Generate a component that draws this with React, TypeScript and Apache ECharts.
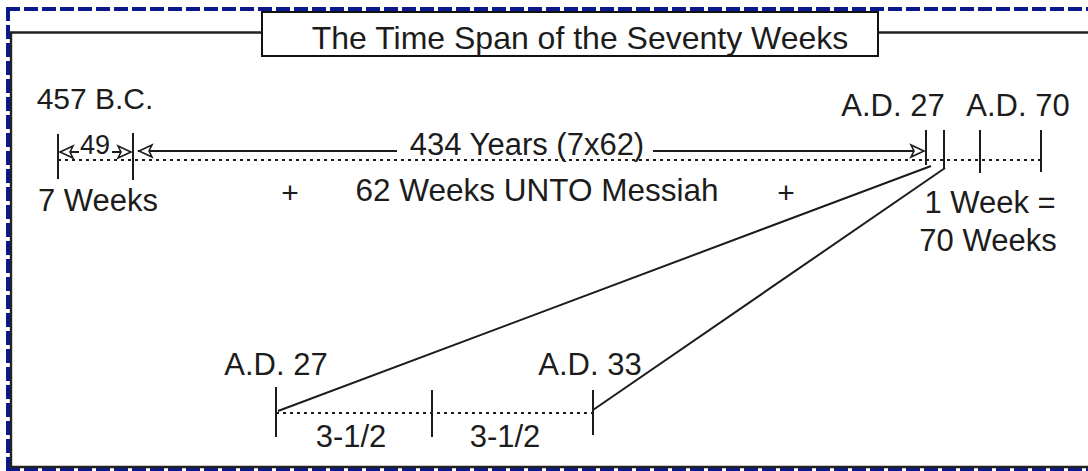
import React, { useEffect, useRef } from "react";
import * as echarts from "echarts";

const W = 1088;
const H = 471;
const FONT = "'Liberation Sans', Arial, Helvetica, sans-serif";
const INK = "#1c1c1c";
const NAVY = "#0a1a8c";

// Vertical tick marks on the timelines: [x, yTop, yBottom]
const tickMarks: number[][] = [
  [58, 134, 179], [133, 133, 180],
  [926, 130, 165], [944, 130, 168], [980, 130, 173], [1041, 130, 172],
  [276, 387, 437], [432, 390, 437], [593, 390, 435],
];
// Dotted timelines: [x1, y1, x2, y2]
const dottedLines: number[][] = [
  [58, 160, 1043, 160],
  [276, 413, 593, 413],
];
// Solid segments: arrow shafts and the two connecting diagonals
const solidLines: number[][] = [
  [60, 152, 79, 152], [112, 152, 131, 152],
  [138, 151, 397, 151], [653, 151, 924, 151],
  [278, 411, 931, 166],
  [593, 410, 945, 168],
];
// Arrow heads: [tipX, tipY, direction]
const arrowHeads: number[][] = [
  [60, 152, -1], [131, 152, 1],
  [139, 151, -1], [924, 151, 1],
];
// Labels: [text, centerX, centerY, fontSize]
const labels: [string, number, number, number][] = [
  ["457 B.C.", 95, 98.5, 30],
  ["49", 95, 145, 27],
  ["434 Years (7x62)", 527, 144, 31],
  ["7 Weeks", 98, 200, 31],
  ["+", 290, 192, 30],
  ["62 Weeks UNTO Messiah", 537, 190, 31.5],
  ["+", 786, 192, 30],
  ["A.D. 27", 893, 105, 31],
  ["A.D. 70", 1018, 105, 31],
  ["1 Week =", 990, 202, 31],
  ["70 Weeks", 988, 240, 31],
  ["A.D. 27", 276, 364, 31],
  ["A.D. 33", 590, 364, 31],
  ["3-1/2", 351, 436, 31],
  ["3-1/2", 505, 436, 31],
];
const title = "The Time Span of the Seventy Weeks";

export default function App() {
  const ref = useRef<HTMLDivElement>(null);
  useEffect(() => {
    if (!ref.current) return;
    const chart = echarts.init(ref.current, null, { renderer: "svg" });

    const lineItem = (arr: number[][], dash: number[] | null, width: number) => ({
      type: "custom",
      coordinateSystem: "cartesian2d",
      clip: false,
      silent: true,
      data: arr.map((s) => [s[0], s[1]]),
      renderItem: (params: any, api: any) => {
        const s = arr[params.dataIndex];
        const p1 = api.coord([s[0], s[1]]);
        const p2 = api.coord([s[2], s[3]]);
        return {
          type: "line",
          shape: { x1: p1[0], y1: p1[1], x2: p2[0], y2: p2[1] },
          style: { stroke: INK, lineWidth: width, lineDash: dash || undefined, fill: null },
        };
      },
    });

    const navyStyle = { stroke: NAVY, lineWidth: 4, lineDash: [14, 4] };

    const option: any = {
      animation: false,
      backgroundColor: "#ffffff",
      grid: { left: 0, right: 0, top: 0, bottom: 0, containLabel: false },
      xAxis: { type: "value", min: 0, max: W, show: false },
      yAxis: { type: "value", min: 0, max: H, inverse: true, show: false },
      graphic: [
        { type: "line", shape: { x1: 6, y1: 9, x2: W, y2: 9 }, style: navyStyle, silent: true },
        { type: "line", shape: { x1: 8, y1: 7, x2: 8, y2: H }, style: navyStyle, silent: true },
        { type: "line", shape: { x1: 6, y1: 470, x2: W, y2: 470 }, style: navyStyle, silent: true },
        {
          type: "polyline",
          shape: { points: [[W, 32.5], [11, 32.5], [11, 467], [W, 467]] },
          style: { fill: "none", stroke: "#222", lineWidth: 2.4 },
          silent: true,
        },
        {
          type: "rect",
          shape: { x: 262, y: 12, width: 616, height: 44 },
          style: { fill: "#fff", stroke: "#111", lineWidth: 2 },
          silent: true,
        },
        {
          type: "text",
          x: 580,
          y: 38,
          style: {
            text: title,
            font: `32px ${FONT}`,
            fill: INK,
            align: "center",
            verticalAlign: "middle",
            textAlign: "center",
            textVerticalAlign: "middle",
          },
          silent: true,
        },
      ],
      series: [
        lineItem(dottedLines, [3, 4], 1.8),
        lineItem(solidLines, null, 2),
        {
          type: "custom",
          coordinateSystem: "cartesian2d",
          clip: false,
          silent: true,
          data: tickMarks.map((t) => [t[0], t[1]]),
          renderItem: (params: any, api: any) => {
            const t = tickMarks[params.dataIndex];
            const p1 = api.coord([t[0], t[1]]);
            const p2 = api.coord([t[0], t[2]]);
            return {
              type: "line",
              shape: { x1: p1[0], y1: p1[1], x2: p2[0], y2: p2[1] },
              style: { stroke: INK, lineWidth: 2 },
            };
          },
        },
        {
          type: "custom",
          coordinateSystem: "cartesian2d",
          clip: false,
          silent: true,
          data: arrowHeads.map((a) => [a[0], a[1]]),
          renderItem: (params: any, api: any) => {
            const a = arrowHeads[params.dataIndex];
            const tip = api.coord([a[0], a[1]]);
            const back = api.coord([a[0] - a[2] * 13, a[1]]);
            return {
              type: "polygon",
              shape: {
                points: [
                  [tip[0], tip[1]],
                  [back[0], tip[1] - 6],
                  [back[0] + a[2] * 3, tip[1]],
                  [back[0], tip[1] + 6],
                ],
              },
              style: { fill: "#fff", stroke: INK, lineWidth: 1.6 },
            };
          },
        },
        {
          type: "custom",
          coordinateSystem: "cartesian2d",
          clip: false,
          silent: true,
          data: labels.map((l) => [l[1], l[2]]),
          renderItem: (params: any, api: any) => {
            const l = labels[params.dataIndex];
            const p = api.coord([l[1], l[2]]);
            return {
              type: "text",
              x: p[0],
              y: p[1],
              style: {
                text: l[0],
                font: `${l[3]}px ${FONT}`,
                fill: INK,
                align: "center",
                verticalAlign: "middle",
                textAlign: "center",
                textVerticalAlign: "middle",
              },
            };
          },
        },
      ],
    };
    chart.setOption(option);
    return () => chart.dispose();
  }, []);

  return (
    <div
      ref={ref}
      style={{ position: "fixed", left: 0, top: 0, width: W, height: H, background: "#fff", overflow: "hidden" }}
    />
  );
}
